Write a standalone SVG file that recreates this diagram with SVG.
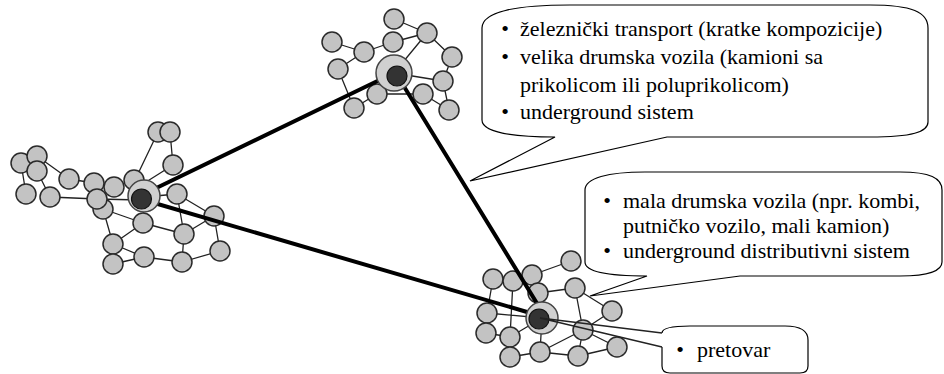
<svg xmlns="http://www.w3.org/2000/svg" width="944" height="374" viewBox="0 0 944 374">
<style>
.e{stroke:#222;stroke-width:1.3;fill:none}
.n{fill:#c3c3c3;stroke:#2a2a2a;stroke-width:1.5}
.ho{fill:#d0d0d0;stroke:#444;stroke-width:1.5}
.hi{fill:#333;stroke:#111;stroke-width:1.2}
.t{stroke:#000;stroke-width:4;stroke-linecap:round}
.c{fill:#fff;stroke:#000;stroke-width:1.2}
</style>
<rect width="944" height="374" fill="#fff"/>
<g id="edges">
<path class="e" d="M21,163 L26,194 M37,156 L69,179 M37,171 L50,197 M69,179 L94,183 M94,183 L114,187 M114,187 L134,180 M50,197 L97,199 M158,132 L135,180 M173,165 L170,132 M173,165 L146,182 M134,180 L144,197 M144,197 L177,194 M177,194 L214,216 M214,216 L220,251 M214,216 L184,234 M177,194 L184,234 M184,234 L182,262 M143,223 L184,234 M143,223 L113,244 M103,209 L143,223 M103,209 L113,244 M113,264 L144,257 M113,244 L144,257 M144,257 L182,262 M182,262 L220,251 M144,197 L143,223 M97,199 L140,200"/>
<path class="e" d="M394,19 L427,33 M393,42 L427,33 M364,52 L393,42 M332,42 L364,52 M364,52 L338,69 M338,69 L354,108 M427,33 L452,57 M427,33 L394,73 M452,57 L443,81 M394,73 L443,81 M443,81 L449,110 M423,94 L449,110 M377,94 L423,94 M377,94 L354,108"/>
<path class="e" d="M571,261 L532,275 M493,279 L487,313 M538,293 L575,288 M575,288 L583,330 M575,288 L612,311 M612,311 L583,330 M487,313 L542,318 M486,333 L510,337 M510,337 L510,357 M513,281 L510,337 M510,357 L540,352 M542,318 L540,352 M540,352 L578,356 M540,352 L583,330 M583,330 L578,356 M578,356 L617,347 M583,330 L617,347 M510,337 L542,318"/>
</g>
<g id="nodes-left">
<g id="l1"><circle class="n" cx="158" cy="132" r="10"/></g>
<g id="l2"><circle class="n" cx="170" cy="132" r="10"/></g>
<g id="l3"><circle class="n" cx="21" cy="163" r="10"/></g>
<g id="l4"><circle class="n" cx="37" cy="156" r="10"/></g>
<g id="l5"><circle class="n" cx="37" cy="171" r="10"/></g>
<g id="l6"><circle class="n" cx="26" cy="194" r="10"/></g>
<g id="l7"><circle class="n" cx="50" cy="197" r="10"/></g>
<g id="l8"><circle class="n" cx="69" cy="179" r="10"/></g>
<g id="l9"><circle class="n" cx="94" cy="183" r="10"/></g>
<g id="l10"><circle class="n" cx="103" cy="209" r="10"/></g>
<g id="l11"><circle class="n" cx="97" cy="199" r="10"/></g>
<g id="l12"><circle class="n" cx="114" cy="187" r="10"/></g>
<g id="l13"><circle class="n" cx="134" cy="180" r="10"/></g>
<g id="l14"><circle class="n" cx="173" cy="165" r="10"/></g>
<g id="l15"><circle class="n" cx="177" cy="194" r="10"/></g>
<g id="l16"><circle class="n" cx="143" cy="223" r="10"/></g>
<g id="l17"><circle class="n" cx="214" cy="216" r="10"/></g>
<g id="l18"><circle class="n" cx="184" cy="234" r="10"/></g>
<g id="l19"><circle class="n" cx="113" cy="244" r="10"/></g>
<g id="l20"><circle class="n" cx="113" cy="264" r="10"/></g>
<g id="l21"><circle class="n" cx="144" cy="257" r="10"/></g>
<g id="l22"><circle class="n" cx="182" cy="262" r="10"/></g>
<g id="l23"><circle class="n" cx="220" cy="251" r="10"/></g>
</g>
<g id="nodes-top">
<g id="t1"><circle class="n" cx="394" cy="19" r="10"/></g>
<g id="t2"><circle class="n" cx="427" cy="33" r="10"/></g>
<g id="t3"><circle class="n" cx="393" cy="42" r="10"/></g>
<g id="t4"><circle class="n" cx="332" cy="42" r="10"/></g>
<g id="t5"><circle class="n" cx="364" cy="52" r="10"/></g>
<g id="t6"><circle class="n" cx="452" cy="57" r="10"/></g>
<g id="t7"><circle class="n" cx="338" cy="69" r="10"/></g>
<g id="t8"><circle class="n" cx="443" cy="81" r="10"/></g>
<g id="t9"><circle class="n" cx="423" cy="94" r="10"/></g>
<g id="t10"><circle class="n" cx="377" cy="94" r="10"/></g>
<g id="t11"><circle class="n" cx="354" cy="108" r="10"/></g>
<g id="t12"><circle class="n" cx="449" cy="110" r="10"/></g>
</g>
<g id="nodes-right">
<g id="r1"><circle class="n" cx="571" cy="261" r="10"/></g>
<g id="r2"><circle class="n" cx="493" cy="279" r="10"/></g>
<g id="r3"><circle class="n" cx="513" cy="281" r="10"/></g>
<g id="r4"><circle class="n" cx="532" cy="275" r="10"/></g>
<g id="r5"><circle class="n" cx="538" cy="293" r="10"/></g>
<g id="r6"><circle class="n" cx="575" cy="288" r="10"/></g>
<g id="r7"><circle class="n" cx="612" cy="311" r="10"/></g>
<g id="r8"><circle class="n" cx="487" cy="313" r="10"/></g>
<g id="r9"><circle class="n" cx="486" cy="333" r="10"/></g>
<g id="r10"><circle class="n" cx="510" cy="337" r="10"/></g>
<g id="r11"><circle class="n" cx="583" cy="330" r="10"/></g>
<g id="r12"><circle class="n" cx="617" cy="347" r="10"/></g>
<g id="r13"><circle class="n" cx="510" cy="357" r="10"/></g>
<g id="r14"><circle class="n" cx="540" cy="352" r="10"/></g>
<g id="r15"><circle class="n" cx="578" cy="356" r="10"/></g>
</g>
<g id="trunks">
<line class="t" x1="146" y1="193" x2="394" y2="73"/>
<line class="t" x1="400" y1="80" x2="538" y2="305"/>
<line class="t" x1="144" y1="200" x2="527" y2="312"/>
</g>
<g id="hub-left"><circle class="ho" cx="144" cy="196" r="16"/><circle class="hi" cx="141.5" cy="199" r="10"/></g>
<g id="hub-top"><circle class="ho" cx="394" cy="73" r="18"/><circle class="hi" cx="397" cy="76" r="10"/></g>
<g id="hub-right"><circle class="ho" cx="542" cy="318" r="16"/><circle class="hi" cx="539" cy="319" r="10"/></g>
<g id="callout-1">
<path class="c" d="M482,120 L482,28 C482,12 515,5 570,5 L870,5 C912,5 928,12 928,28 L928,122 C928,132 912,137 870,137 L667,137 L470,181 L555,137 C512,137 482,132 482,120 Z"/>
<text x="505" y="36" text-anchor="middle" style="font-family:'Liberation Serif';font-size:22px">•</text>
<text x="520" y="36" style="font-family:'Liberation Serif';font-size:22px">železnički transport (kratke kompozicije)</text>
<text x="505" y="64" text-anchor="middle" style="font-family:'Liberation Serif';font-size:22px">•</text>
<text x="520" y="64" style="font-family:'Liberation Serif';font-size:22px">velika drumska vozila (kamioni sa</text>
<text x="520" y="92" style="font-family:'Liberation Serif';font-size:22px">prikolicom ili poluprikolicom)</text>
<text x="505" y="119" text-anchor="middle" style="font-family:'Liberation Serif';font-size:22px">•</text>
<text x="520" y="119" style="font-family:'Liberation Serif';font-size:22px">underground sistem</text>
</g>
<g id="callout-2">
<path class="c" d="M585,262 L585,190 C585,178 608,172 645,172 L900,172 C930,172 942,178 942,190 L942,262 C942,270 930,276 900,276 L740,276 L590,296 L647,276 C608,276 585,272 585,262 Z"/>
<text x="607" y="208" text-anchor="middle" style="font-family:'Liberation Serif';font-size:22px">•</text>
<text x="623" y="208" style="font-family:'Liberation Serif';font-size:22px">mala drumska vozila (npr. kombi,</text>
<text x="623" y="233" style="font-family:'Liberation Serif';font-size:22px">putničko vozilo, mali kamion)</text>
<text x="607" y="258" text-anchor="middle" style="font-family:'Liberation Serif';font-size:22px">•</text>
<text x="623" y="258" style="font-family:'Liberation Serif';font-size:22px">underground distributivni sistem</text>
</g>
<g id="callout-3">
<path class="c" d="M662,347 L662,366 Q662,373 670,373 L800,373 Q808,373 808,366 L808,340 C808,331 800,326 785,326 L690,326 C672,326 662,328 662,333"/>
<path class="e" d="M662,333 L540,318 L662,347" stroke="#000"/>
<text x="680" y="357" text-anchor="middle" style="font-family:'Liberation Serif';font-size:22px">•</text>
<text x="697" y="357" style="font-family:'Liberation Serif';font-size:22px">pretovar</text>
</g>
</svg>
